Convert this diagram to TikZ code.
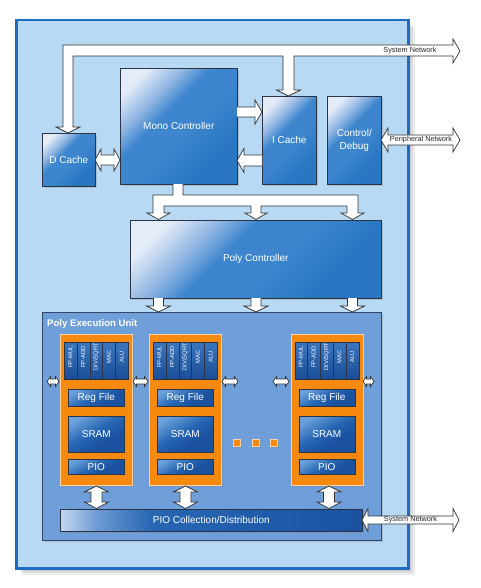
\documentclass[tikz,border=0pt]{standalone}
\usepackage{fontspec}
\setmainfont{Liberation Sans}
\usetikzlibrary{shadows}
\definecolor{framefill}{HTML}{B7D9F4}
\definecolor{framedraw}{HTML}{1F6DC2}
\definecolor{peufill}{HTML}{6E9FD8}
\definecolor{peudraw}{HTML}{34466A}
\definecolor{orng}{HTML}{F7890F}
\definecolor{orngedge}{HTML}{FDD3A6}
\definecolor{bxdark}{HTML}{2A76C2}
\definecolor{bxmid}{HTML}{3D86CE}
\definecolor{bxpale}{HTML}{8FB5E2}
\definecolor{bxlight}{HTML}{E4ECF8}
\definecolor{indark}{HTML}{1A52A0}
\definecolor{inmid}{HTML}{2766B3}
\definecolor{inlight}{HTML}{6A9FDA}
\definecolor{pclight}{HTML}{C4D8F0}
\definecolor{pcmid}{HTML}{6E9BD4}
\definecolor{fudark}{HTML}{1A4E96}
\definecolor{fulight}{HTML}{3A76BE}
\definecolor{boxedge}{HTML}{2A3446}
\pgfdeclareverticalshading{bxshade}{100bp}{color(0bp)=(bxdark); color(30bp)=(bxdark); color(46bp)=(bxmid); color(58bp)=(bxmid); color(66bp)=(bxpale); color(77bp)=(bxlight); color(100bp)=(bxlight)}
\pgfdeclareverticalshading{inshade}{100bp}{color(0bp)=(indark); color(38bp)=(indark); color(54bp)=(inmid); color(76bp)=(inlight); color(100bp)=(inlight)}
\pgfdeclarehorizontalshading{pcshade}{100bp}{color(0bp)=(pclight); color(25bp)=(pclight); color(31bp)=(pcmid); color(40bp)=(inmid); color(75bp)=(indark); color(100bp)=(indark)}
\begin{document}
\begin{tikzpicture}[x=1pt,y=-1pt,
  barrow/.style={draw=black!80, fill=white, line width=0.7pt, line join=miter},
  bluebox/.style={draw=boxedge, line width=0.6pt, shading=bxshade, shading angle=45,
    text=white, inner sep=0pt, anchor=north west, align=center,
    font=\fontsize{10}{12.4}\selectfont,
    drop shadow={shadow xshift=1.5pt, shadow yshift=-1.5pt, opacity=.3}},
  innerbox/.style={draw=boxedge, line width=0.6pt, shading=inshade, shading angle=30,
    text=white, inner sep=0pt, anchor=north west, minimum width=56pt,
    font=\fontsize{10}{12}\selectfont},
  orangebox/.style={fill=orng, draw=orngedge, line width=0.8pt, inner sep=0pt,
    anchor=north west, minimum width=72pt, minimum height=151pt,
    drop shadow={shadow xshift=1.5pt, shadow yshift=-1.5pt, opacity=.3}},
  fucell/.style={draw=boxedge, line width=0.5pt, top color=fulight, bottom color=fudark,
    inner sep=0pt, anchor=north west, minimum width=12.8pt, minimum height=37pt},
  fulabel/.style={text=white, inner sep=0pt, font=\fontsize{5.8}{6}\selectfont, rotate=90},
  netlabel/.style={text=black!85, inner sep=0pt, font=\fontsize{7.3}{8}\selectfont},
  dotsq/.style={fill=orng, draw=orngedge, line width=0.6pt, minimum size=7pt, inner sep=0pt,
    drop shadow={shadow xshift=1pt, shadow yshift=-1pt, opacity=.3}}]
\useasboundingbox (0,0) rectangle (480,588);
% frame shadow
\foreach \s in {2,4,6,8} \fill[black, opacity=0.07] ({15+\s},{19+\s}) rectangle ({407+\s},{567+\s});
\node[fill=framefill, draw=framedraw, line width=2.5pt, inner sep=0pt, anchor=north west,
  minimum width=392pt, minimum height=548pt] (frame) at (15,19) {};
% top blocks
\node[bluebox, minimum width=53pt, minimum height=53pt] (dcache) at (42,133) {D Cache};
\node[bluebox, minimum width=117pt, minimum height=116pt] (mono) at (120,68) {Mono Controller};
\node[bluebox, minimum width=54pt, minimum height=88pt] (icache) at (262,96) {I Cache};
\node[bluebox, minimum width=54pt, minimum height=88pt] (ctrl) at (327,96) {Control/\\Debug};
\node[bluebox, minimum width=251pt, minimum height=78pt] (poly) at (130,220) {Poly Controller};
% poly execution unit
\node[fill=peufill, draw=peudraw, line width=0.8pt, inner sep=0pt, anchor=north west,
  minimum width=339pt, minimum height=228pt,
  drop shadow={shadow xshift=1.5pt, shadow yshift=-1.5pt, opacity=.3}] (peu) at (42,312) {};
\node[text=white, inner sep=0pt, anchor=west, font=\fontsize{9.6}{11}\bfseries] (peutitle) at (47,324) {Poly Execution Unit};
\foreach \cx [count=\i] in {60,149,290.5} {
  \node[orangebox] (pe\i) at (\cx,334) {};
  \foreach \lab [count=\j] in {FP-MUL,FP-ADD,DIV/SQRT,MAC,ALU} {
    \node[fucell] (fu\i\j) at ({\cx+4+(\j-1)*12.8},342) {};
    \node[fulabel] (ful\i\j) at ({\cx+4+(\j-0.5)*12.8},357) {\lab};
  }
  \node[innerbox, minimum height=17pt] (reg\i) at ({\cx+8},389) {Reg File};
  \node[innerbox, minimum height=36pt] (sram\i) at ({\cx+8},416) {SRAM};
  \node[innerbox, minimum height=15pt] (pio\i) at ({\cx+8},459) {PIO};
}
\foreach \dx [count=\k] in {237,256,274} \node[dotsq] (dot\k) at (\dx,443) {};
\node[draw=boxedge, line width=0.6pt, shading=pcshade, text=white, inner sep=0pt,
  anchor=north west, minimum width=302pt, minimum height=22pt,
  font=\fontsize{10}{12}\selectfont,
  drop shadow={shadow xshift=1.5pt, shadow yshift=-1.5pt, opacity=.3}] (pioc) at (60,509) {PIO Collection/Distribution};
% ---- block arrows ----
% system network (top)
\draw[barrow] (63,127) -- (63,45) -- (453,45) -- (453,39) -- (460,51) -- (453,63) -- (453,56)
  -- (294,56) -- (294,90) -- (300.5,90) -- (288.5,96) -- (276.5,90) -- (283,90) -- (283,56)
  -- (73,56) -- (73,127) -- (80,127) -- (68,133) -- (56,127) -- cycle;
\node[netlabel] (sn1) at (410,51) {System Network};
% mono -> icache
\draw[barrow] (237,107) -- (255,107) -- (255,100) -- (262,112) -- (255,124) -- (255,117) -- (237,117);
% icache -> mono
\draw[barrow] (262,155) -- (244,155) -- (244,148.5) -- (237,160.5) -- (244,172.5) -- (244,166) -- (262,166);
% dcache <-> mono
\draw[barrow] (95,160) -- (101,149) -- (101,155) -- (114,155) -- (114,149) -- (120,160)
  -- (114,171) -- (114,165) -- (101,165) -- (101,171) -- cycle;
% peripheral network
\draw[barrow] (381,140) -- (388,128) -- (388,135) -- (453,135) -- (453,128) -- (460,140)
  -- (453,152) -- (453,145) -- (388,145) -- (388,152) -- cycle;
\node[netlabel] (pn) at (421,140) {Peripheral Network};
% mono -> poly
\draw[barrow] (173,184) -- (173,195) -- (153,195) -- (153,213) -- (147,213) -- (158.5,219.5)
  -- (170,213) -- (164,213) -- (164,206) -- (251,206) -- (251,213) -- (245,213) -- (256,219.5)
  -- (267,213) -- (261,213) -- (261,206) -- (347,206) -- (347,213) -- (341,213) -- (352.5,219.5)
  -- (364,213) -- (358,213) -- (358,195) -- (183,195) -- (183,184);
% poly -> peu
\foreach \c in {158.5,256,352.5}
  \draw[barrow] ({\c-5},298) -- ({\c-5},306) -- ({\c-12},306) -- (\c,312) -- ({\c+12},306) -- ({\c+5},306) -- ({\c+5},298);
% small horizontal double arrows between PEs
\foreach \xa/\xb in {47/59,133/148,222/238,273/289,363/374}
  \draw[barrow] (\xa,381.5) -- ({\xa+3.5},376.5) -- ({\xa+3.5},379) -- ({\xb-3.5},379) -- ({\xb-3.5},376.5)
    -- (\xb,381.5) -- ({\xb-3.5},386.5) -- ({\xb-3.5},384) -- ({\xa+3.5},384) -- ({\xa+3.5},386.5) -- cycle;
% PIO <-> collection
\foreach \c in {96.5,185.5,329}
  \draw[barrow] (\c,486) -- ({\c+12},492) -- ({\c+5.5},492) -- ({\c+5.5},502) -- ({\c+12},502) -- (\c,508.5)
    -- ({\c-12},502) -- ({\c-5.5},502) -- ({\c-5.5},492) -- ({\c-12},492) -- cycle;
% system network (bottom)
\draw[barrow] (362,520) -- (368,508.5) -- (368,516) -- (453,516) -- (453,508.5) -- (459,520)
  -- (453,531.5) -- (453,524) -- (368,524) -- (368,531.5) -- cycle;
\node[netlabel] (sn2) at (410.5,520) {System Network};
\end{tikzpicture}
\end{document}
